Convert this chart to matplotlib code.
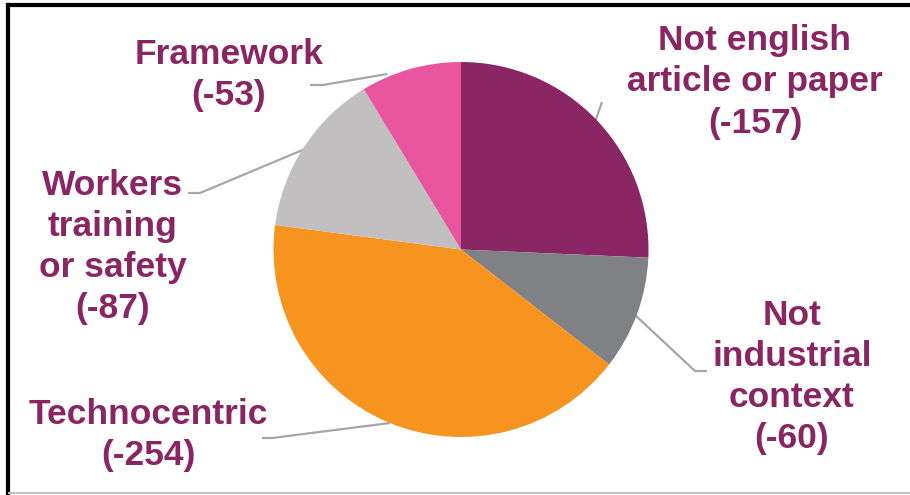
import matplotlib
matplotlib.use("Agg")
import matplotlib.pyplot as plt

W, H = 910, 495

labels = ["Not english\narticle or paper", "Not\nindustrial\ncontext", "Technocentric",
          "Workers\ntraining\nor safety", "Framework"]
values = [157, 60, 254, 87, 53]
colors = ["#8A2663", "#808184", "#F7941F", "#C1BFC0", "#E8559E"]
txt_color = "#8A2563"

# label block centers and leader polylines, in image pixels (y down)
label_pos = [(755, 82), (792, 377), (148, 435), (113, 247), (229, 75)]
leaders = [
    [(602, 102), (595, 122)],
    [(635, 315), (695, 371), (707, 371)],
    [(262, 438), (272, 438), (390, 423)],
    [(188, 193), (200, 193), (305, 149)],
    [(310, 85), (323, 85), (387, 74)],
]


def px(x, y):
    return x, H - y


fig = plt.figure(figsize=(W / 100, H / 100), dpi=100)
ax = fig.add_axes([0, 0, 1, 1])

cx, cy = px(461, 249.5)
ax.pie(values, colors=colors, startangle=90, counterclock=False,
       center=(cx, cy), radius=187.5, frame=True,
       wedgeprops=dict(linewidth=0))
ax.set_xlim(0, W)
ax.set_ylim(0, H)
ax.axis("off")
ax.set_aspect("equal")

for pts in leaders:
    xs = [px(*p)[0] for p in pts]
    ys = [px(*p)[1] for p in pts]
    ax.plot(xs, ys, color="#A6A6A6", lw=1.6, zorder=0.5, solid_capstyle="butt")

for (lab, v), (x, y) in zip(zip(labels, values), label_pos):
    ax.text(*px(x, y), f"{lab}\n(-{v})", ha="center", va="center",
            fontsize=25.5, fontweight="bold", family="Liberation Sans",
            color=txt_color, linespacing=1.32)

# frame around the picture
ax.plot([7.5, 7.5], [0, H - 4.5], color="black", lw=3, clip_on=False,
        solid_capstyle="projecting")
ax.plot([7.5, W], [H - 4.5, H - 4.5], color="black", lw=3, clip_on=False)
ax.plot([9, W], [2, 2], color="#BFBFBF", lw=1.5, clip_on=False)

fig.savefig("out.png", dpi=100)
